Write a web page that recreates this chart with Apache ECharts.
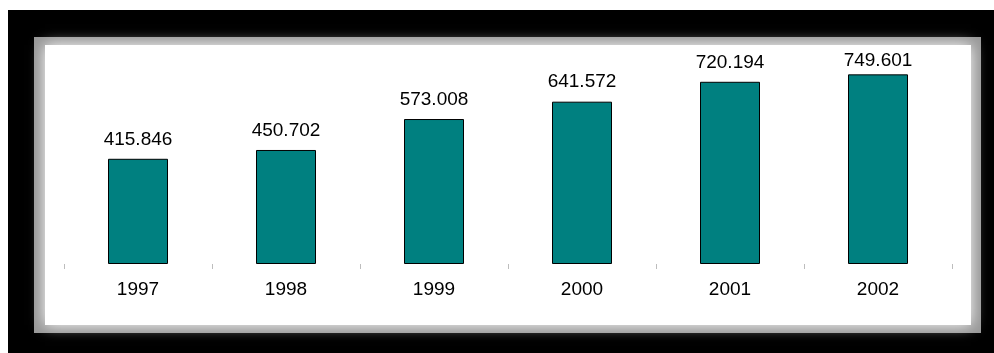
<!DOCTYPE html>
<html>
<head>
<meta charset="utf-8">
<script src="https://cdn.jsdelivr.net/npm/echarts@6/dist/echarts.min.js"></script>
<style>
html, body { margin: 0; padding: 0; background: #fff; }
#chart { width: 994px; height: 353px; }
</style>
</head>
<body>
<div id="chart"></div>
<script>
var years = ['1997', '1998', '1999', '2000', '2001', '2002'];
var values = [415.846, 450.702, 573.008, 641.572, 720.194, 749.601];

var myChart = echarts.init(document.getElementById('chart'));

// last label sits closer to its bar (pushed down by the plot top)
var barData = values.map(function(v, i) {
	if (i === values.length - 1) {
		return { value: v, label: { distance: 4 } };
	}
	return v;
});

var option = {
	backgroundColor: '#fff',
	animation: false,
	graphic: [
		// black frame
		{ type: 'rect', z: -10, shape: { x: 8, y: 10, width: 986, height: 343 }, style: { fill: '#000' } },
		// grey bevel round the panel
		{ type: 'rect', z: -9, shape: { x: 34, y: 37, width: 947, height: 296 }, style: { fill: '#989898' } },
		{
			type: 'rect', z: -8,
			shape: { x: 45, y: 45, width: 926, height: 280 },
			style: { fill: '#fff', shadowBlur: 14, shadowColor: '#fff' }
		}
	],
	grid: {
		left: 64,
		right: 42,
		top: 61.6,
		bottom: 89
	},
	xAxis: {
		type: 'category',
		data: years,
		boundaryGap: true,
		axisLine: { show: false },
		axisTick: {
			show: true,
			length: 5,
			lineStyle: { color: '#bdbdbd', width: 1 }
		},
		axisLabel: {
			color: '#000',
			fontSize: 19,
			fontFamily: 'Liberation Sans',
			margin: 16
		},
		splitLine: { show: false }
	},
	yAxis: {
		type: 'value',
		min: 0,
		max: 800,
		show: false,
		splitLine: { show: false }
	},
	series: [{
		type: 'bar',
		data: barData,
		barWidth: 60,
		itemStyle: {
			color: '#008080',
			borderColor: '#000',
			borderWidth: 1
		},
		label: {
			show: true,
			position: 'top',
			distance: 10,
			color: '#000',
			fontSize: 19,
			fontFamily: 'Liberation Sans',
			formatter: function(p) { return p.value.toFixed(3); }
		}
	}]
};

myChart.setOption(option);
</script>
</body>
</html>
